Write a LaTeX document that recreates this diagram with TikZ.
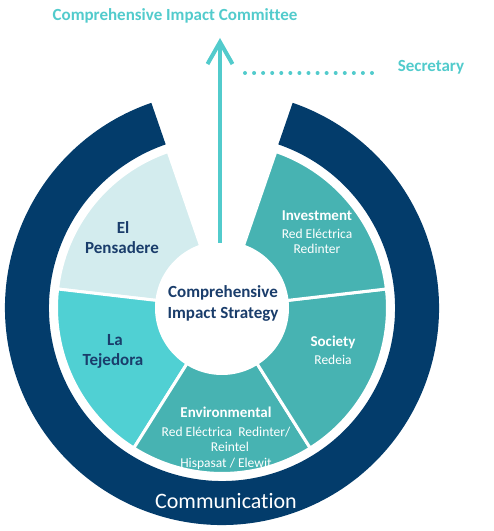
\documentclass[tikz,border=0pt]{standalone}
\usepackage{fontspec}
\setmainfont{Carlito}[Ligatures=NoCommon]
\usetikzlibrary{arrows.meta}
\definecolor{navy}{HTML}{033C6B}
\definecolor{navytext}{HTML}{1A3D6B}
\definecolor{aqua}{HTML}{52CBCC}
\definecolor{palecyan}{HTML}{D3ECEE}
\definecolor{brightteal}{HTML}{50D0D3}
\definecolor{teal}{HTML}{47B3B2}
\begin{document}
\begin{tikzpicture}[x=1pt,y=1pt,
  lbl/.style={anchor=base, inner sep=0pt, outer sep=0pt},
  titlefont/.style={font=\bfseries\fontsize{17pt}{20pt}\selectfont},
  segtitle/.style={lbl, white, font=\bfseries\fontsize{15pt}{18pt}\selectfont},
  segsub/.style={lbl, white, font=\fontsize{13.5pt}{16pt}\selectfont},
  darkseg/.style={lbl, navytext, font=\bfseries\fontsize{17pt}{20pt}\selectfont},
  wedge/.style={draw=white, line width=3pt, line join=round}
]
\useasboundingbox (0,0) rectangle (494,531);

% ring and segments
\begin{scope}[shift={(222,223)}]
  \fill[navy] (109:217pt) arc[start angle=109, end angle=431, radius=217pt]
     -- (431:173pt) arc[start angle=431, end angle=109, radius=173pt] -- cycle;
  \filldraw[wedge, fill=palecyan] (0,0) -- (109:165.5pt) arc[start angle=109, end angle=173.4, radius=165.5pt] -- cycle;
  \filldraw[wedge, fill=brightteal] (0,0) -- (173.4:165.5pt) arc[start angle=173.4, end angle=237.8, radius=165.5pt] -- cycle;
  \filldraw[wedge, fill=teal] (0,0) -- (237.8:165.5pt) arc[start angle=237.8, end angle=302.2, radius=165.5pt] -- cycle;
  \filldraw[wedge, fill=teal] (0,0) -- (302.2:165.5pt) arc[start angle=302.2, end angle=366.6, radius=165.5pt] -- cycle;
  \filldraw[wedge, fill=teal] (0,0) -- (366.6:165.5pt) arc[start angle=366.6, end angle=431, radius=165.5pt] -- cycle;
  \fill[white] (0,0) circle[radius=67pt];
\end{scope}

% arrow to committee
\coordinate (arrowstart) at (220,288);
\coordinate (arrowtip) at (220,493);
\draw[aqua, line width=4pt, -{Straight Barb[length=22pt,width=25pt]}] (arrowstart) -- (arrowtip);

% dotted line to secretary
\coordinate (dotA) at (245,458);
\coordinate (dotB) at (372,458);
\draw[aqua, line width=4pt, line cap=round, dash pattern=on 0pt off 9.07pt] (dotA) -- (dotB);

% top labels
\node[lbl, aqua, titlefont] (committee) at (175,510.6) {Comprehensive Impact Committee};
\node[lbl, aqua, titlefont] (secretary) at (431,459.6) {Secretary};

% centre
\node[darkseg] (centre1) at (223,233.6) {Comprehensive};
\node[darkseg] (centre2) at (223,212.6) {Impact Strategy};

% El Pensadere
\node[darkseg] (pens1) at (123,297.6) {El};
\node[darkseg] (pens2) at (122,277.6) {Pensadere};

% La Tejedora
\node[darkseg] (teje1) at (115,185.6) {La};
\node[darkseg] (teje2) at (113,165.6) {Tejedora};

% Investment
\node[segtitle] (inv1) at (317,310.2) {Investment};
\node[segsub] (inv2) at (317,292.7) {Red Eléctrica};
\node[segsub] (inv3) at (317,277.7) {Redinter};

% Society
\node[segtitle] (soc1) at (333,184.2) {Society};
\node[segsub] (soc2) at (333,166.7) {Redeia};

% Environmental
\node[segtitle] (env1) at (226,113.2) {Environmental};
\node[segsub] (env2) at (226,94.7) {Red Eléctrica\ \ Redinter/};
\node[segsub] (env3) at (230,79.7) {Reintel};
\node[segsub] (env4) at (226,63.7) {Hispasat / Elewit};

% Communication
\node[lbl, white, font=\fontsize{22pt}{26pt}\selectfont] (comm) at (226,23) {Communication};
\end{tikzpicture}
\end{document}
